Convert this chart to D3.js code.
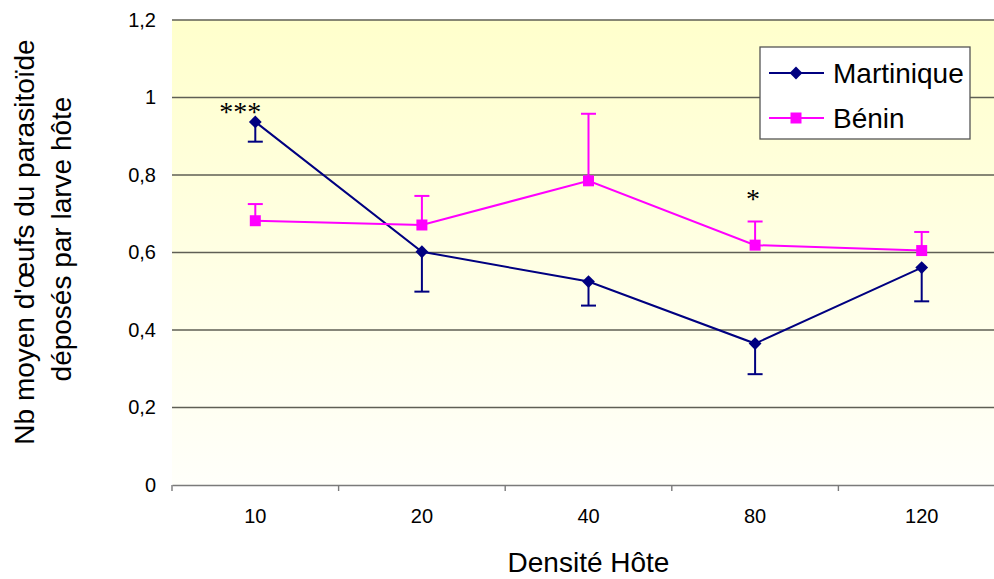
<!DOCTYPE html>
<html>
<head>
<meta charset="utf-8">
<script src="https://cdn.jsdelivr.net/npm/d3@7"></script>
<style>
  body { margin: 0; background: #fff; }
  svg { display: block; font-family: "Liberation Sans", Arial, sans-serif; }
</style>
</head>
<body>
<svg id="chart" width="994" height="579"></svg>
<script>
// host density categories
var categories = ["10", "20", "40", "80", "120"];

// mean eggs per host larva
var martinique = [0.937, 0.602, 0.525, 0.365, 0.561];
var martiniqueErr = [0.051, 0.103, 0.062, 0.079, 0.087];
var benin = [0.682, 0.671, 0.785, 0.619, 0.605];
var beninErr = [0.043, 0.075, 0.173, 0.061, 0.048];

var yTicks = [0, 0.2, 0.4, 0.6, 0.8, 1, 1.2];

// significance marks
var signifCats = ["10", "80"];
var signifText = ["***", "*"];

var svg = d3.select("#chart");

var plotLeft = 172, plotRight = 1005, plotTop = 20, plotBottom = 485;

var x = d3.scaleBand().domain(categories).range([plotLeft, plotRight]).padding(0);
var y = d3.scaleLinear().domain([0, 1.2]).range([plotBottom, plotTop]);

var frLocale = d3.formatLocale({ decimal: ",", thousands: " ", grouping: [3], currency: ["", " €"] });
var fmt = frLocale.format("~g");

var cx = function(i) { return x(categories[i]) + x.bandwidth() / 2; };

// background gradient of the plot area
var defs = svg.append("defs");
var grad = defs.append("linearGradient")
  .attr("id", "bg")
  .attr("x1", 0).attr("y1", 0).attr("x2", 0).attr("y2", 1);
grad.append("stop").attr("offset", "0%").attr("stop-color", "#ffffcc");
grad.append("stop").attr("offset", "100%").attr("stop-color", "#fffffa");

svg.append("rect")
  .attr("x", plotLeft)
  .attr("y", plotTop)
  .attr("width", plotRight - plotLeft)
  .attr("height", plotBottom - plotTop)
  .attr("fill", "url(#bg)");

// gridlines
svg.append("g")
  .selectAll("line")
  .data(yTicks.filter(function(d) { return d > 0; }))
  .enter()
  .append("line")
  .attr("x1", plotLeft)
  .attr("x2", plotRight)
  .attr("y1", function(d) { return y(d); })
  .attr("y2", function(d) { return y(d); })
  .attr("stroke", "#5f5f55")
  .attr("stroke-width", 1.6);

// y axis (labels only)
var yAxis = svg.append("g")
  .attr("transform", "translate(" + plotLeft + ",0)")
  .call(d3.axisLeft(y).tickValues(yTicks).tickSize(0).tickPadding(16).tickFormat(fmt));
yAxis.select(".domain").remove();
yAxis.selectAll("text")
  .style("font-size", "20px")
  .style("font-family", "'Liberation Sans', Arial, sans-serif")
  .attr("fill", "#000");

// x axis
var xAxis = svg.append("g")
  .attr("transform", "translate(0," + plotBottom + ")")
  .call(d3.axisBottom(x).tickSize(0).tickPadding(24));
xAxis.select(".domain")
  .attr("stroke", "#7a7a7a")
  .attr("stroke-width", 1.6);
xAxis.selectAll("text")
  .style("font-size", "20px")
  .style("font-family", "'Liberation Sans', Arial, sans-serif")
  .attr("fill", "#000");

// tick marks between categories
var bounds = categories.map(function(c) { return x(c); }).concat([plotRight]);
xAxis.selectAll(".bound")
  .data(bounds)
  .enter()
  .append("line")
  .attr("class", "bound")
  .attr("x1", function(d) { return d; })
  .attr("x2", function(d) { return d; })
  .attr("y1", 0)
  .attr("y2", 6)
  .attr("stroke", "#7a7a7a")
  .attr("stroke-width", 1.4);

var line = d3.line()
  .x(function(d, i) { return cx(i); })
  .y(function(d) { return y(d); });

function drawSeries(values, errs, color, size, rotate, up) {
  var g = svg.append("g");

  // error bars, one side only
  var eb = g.selectAll(".err")
    .data(values)
    .enter()
    .append("g");
  eb.append("line")
    .attr("x1", function(d, i) { return cx(i); })
    .attr("x2", function(d, i) { return cx(i); })
    .attr("y1", function(d) { return y(d); })
    .attr("y2", function(d, i) { return y(up ? d + errs[i] : d - errs[i]); })
    .attr("stroke", color)
    .attr("stroke-width", 2);
  eb.append("line")
    .attr("x1", function(d, i) { return cx(i) - 7.5; })
    .attr("x2", function(d, i) { return cx(i) + 7.5; })
    .attr("y1", function(d, i) { return y(up ? d + errs[i] : d - errs[i]); })
    .attr("y2", function(d, i) { return y(up ? d + errs[i] : d - errs[i]); })
    .attr("stroke", color)
    .attr("stroke-width", 2);

  g.append("path")
    .datum(values)
    .attr("d", line)
    .attr("fill", "none")
    .attr("stroke", color)
    .attr("stroke-width", 2);

  g.selectAll(".mk")
    .data(values)
    .enter()
    .append("path")
    .attr("d", d3.symbol().type(d3.symbolSquare).size(size))
    .attr("transform", function(d, i) { return "translate(" + cx(i) + "," + y(d) + ") rotate(" + rotate + ")"; })
    .attr("fill", color);
}

drawSeries(martinique, martiniqueErr, "#000080", 82, 45, false);
drawSeries(benin, beninErr, "#ff00ff", 121, 0, true);

// significance marks above the points
signifCats.forEach(function(c, k) {
  var i = categories.indexOf(c);
  var high = Math.max(martinique[i], benin[i] + beninErr[i]);
  var dx = k === 0 ? -15 : -2;
  var dy = k === 0 ? -1 : -14;
  svg.append("text")
    .attr("x", cx(i) + dx)
    .attr("y", y(high) + dy)
    .attr("text-anchor", "middle")
    .style("font-family", "'Liberation Serif', 'Times New Roman', serif")
    .style("font-size", "28px")
    .text(signifText[k]);
});

// legend
var legend = svg.append("g").attr("transform", "translate(760,47)");
legend.append("rect")
  .attr("width", 210)
  .attr("height", 92)
  .attr("fill", "#fff")
  .attr("stroke", "#555")
  .attr("stroke-width", 1.3);

var legItems = [
  { name: "Martinique", color: "#000080", size: 82, rot: 45 },
  { name: "Bénin", color: "#ff00ff", size: 121, rot: 0 }
];
legItems.forEach(function(it, i) {
  var ly = 26 + i * 45;
  legend.append("line")
    .attr("x1", 9).attr("x2", 64)
    .attr("y1", ly).attr("y2", ly)
    .attr("stroke", it.color)
    .attr("stroke-width", 2);
  legend.append("path")
    .attr("d", d3.symbol().type(d3.symbolSquare).size(it.size))
    .attr("transform", "translate(36," + ly + ") rotate(" + it.rot + ")")
    .attr("fill", it.color);
  legend.append("text")
    .attr("x", 73)
    .attr("y", ly + 10)
    .style("font-size", "28px")
    .text(it.name);
});

// axis titles
svg.append("text")
  .attr("x", (plotLeft + plotRight) / 2)
  .attr("y", 572)
  .attr("text-anchor", "middle")
  .style("font-size", "28px")
  .text("Densité Hôte");

svg.append("text")
  .attr("transform", "translate(34,242) rotate(-90)")
  .attr("text-anchor", "middle")
  .style("font-size", "28px")
  .text("Nb moyen d'œufs du parasitoïde");

svg.append("text")
  .attr("transform", "translate(71,239) rotate(-90)")
  .attr("text-anchor", "middle")
  .style("font-size", "28px")
  .text("déposés par larve hôte");
</script>
</body>
</html>
